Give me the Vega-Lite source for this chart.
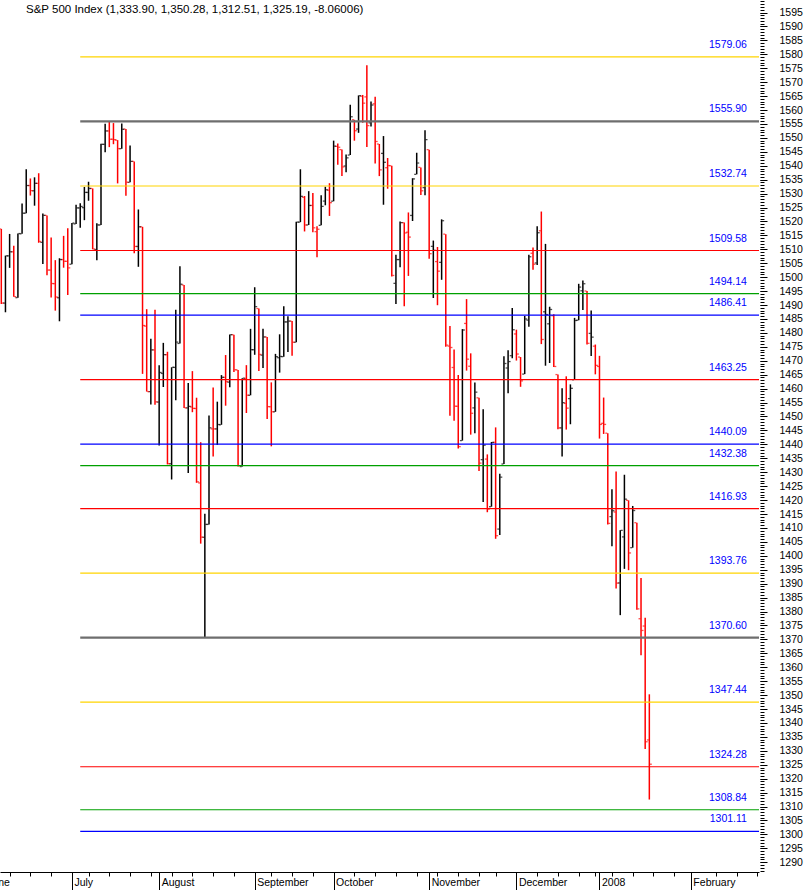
{
  "$schema": "https://vega.github.io/schema/vega-lite/v6.json",
  "width": 759,
  "height": 872,
  "autosize": {"type": "none"},
  "padding": {"left": 0, "top": 0, "right": 49, "bottom": 18},
  "background": "white",
  "config": {"view": {"stroke": null}, "font": "Liberation Sans"},
  "title": {"text": "S&P 500 Index (1,333.90, 1,350.28, 1,312.51, 1,325.19, -8.06006)", "anchor": "start", "frame": "group", "orient": "top", "offset": -24, "dx": 26, "baseline": "alphabetic", "font": "Liberation Sans", "fontSize": 11.5, "fontWeight": "normal", "color": "#000000"},
  "resolve": {"axis": {"x": "independent", "y": "independent"}},
  "datasets": {
    "levels": [
      {"lvl": 1579.06, "name": "1579.06"}, {"lvl": 1555.90, "name": "1555.90"}, {"lvl": 1532.74, "name": "1532.74"}, {"lvl": 1509.58, "name": "1509.58"},
      {"lvl": 1494.14, "name": "1494.14"}, {"lvl": 1486.41, "name": "1486.41"}, {"lvl": 1463.25, "name": "1463.25"}, {"lvl": 1440.09, "name": "1440.09"},
      {"lvl": 1432.38, "name": "1432.38"}, {"lvl": 1416.93, "name": "1416.93"}, {"lvl": 1393.76, "name": "1393.76"}, {"lvl": 1370.60, "name": "1370.60"},
      {"lvl": 1347.44, "name": "1347.44"}, {"lvl": 1324.28, "name": "1324.28"}, {"lvl": 1308.84, "name": "1308.84"}, {"lvl": 1301.11, "name": "1301.11"}
    ],
    "ohlc": [
      {"i":0,"d":"2007-06-07","o":1517.36,"h":1517.36,"l":1490.37,"c":1490.72},
      {"i":1,"d":"2007-06-08","o":1490.71,"h":1507.76,"l":1487.41,"c":1507.67},
      {"i":2,"d":"2007-06-11","o":1507.64,"h":1515.53,"l":1503.35,"c":1509.12},
      {"i":3,"d":"2007-06-12","o":1509.12,"h":1511.33,"l":1492.97,"c":1493.00},
      {"i":4,"d":"2007-06-13","o":1492.65,"h":1515.70,"l":1492.65,"c":1515.67},
      {"i":5,"d":"2007-06-14","o":1515.58,"h":1526.45,"l":1515.58,"c":1522.97},
      {"i":6,"d":"2007-06-15","o":1522.97,"h":1538.71,"l":1522.97,"c":1532.91},
      {"i":7,"d":"2007-06-18","o":1532.90,"h":1535.44,"l":1529.31,"c":1531.05},
      {"i":8,"d":"2007-06-19","o":1531.02,"h":1535.85,"l":1525.67,"c":1533.70},
      {"i":9,"d":"2007-06-20","o":1533.68,"h":1537.32,"l":1512.36,"c":1512.84},
      {"i":10,"d":"2007-06-21","o":1512.50,"h":1522.90,"l":1504.75,"c":1522.19},
      {"i":11,"d":"2007-06-22","o":1522.19,"h":1522.19,"l":1500.74,"c":1502.56},
      {"i":12,"d":"2007-06-25","o":1502.56,"h":1514.29,"l":1492.68,"c":1497.74},
      {"i":13,"d":"2007-06-26","o":1497.68,"h":1506.12,"l":1488.00,"c":1492.89},
      {"i":14,"d":"2007-06-27","o":1492.62,"h":1506.80,"l":1484.18,"c":1506.34},
      {"i":15,"d":"2007-06-28","o":1506.32,"h":1514.84,"l":1503.41,"c":1505.71},
      {"i":16,"d":"2007-06-29","o":1505.70,"h":1517.53,"l":1493.61,"c":1503.35},
      {"i":17,"d":"2007-07-02","o":1504.66,"h":1519.45,"l":1504.66,"c":1519.43},
      {"i":18,"d":"2007-07-03","o":1519.12,"h":1526.01,"l":1519.12,"c":1524.87},
      {"i":19,"d":"2007-07-05","o":1524.86,"h":1526.57,"l":1517.72,"c":1525.40},
      {"i":20,"d":"2007-07-06","o":1524.96,"h":1532.40,"l":1520.47,"c":1530.44},
      {"i":21,"d":"2007-07-09","o":1530.43,"h":1534.26,"l":1527.45,"c":1531.85},
      {"i":22,"d":"2007-07-10","o":1531.85,"h":1531.85,"l":1510.01,"c":1510.12},
      {"i":23,"d":"2007-07-11","o":1509.93,"h":1519.34,"l":1506.10,"c":1518.76},
      {"i":24,"d":"2007-07-12","o":1518.74,"h":1547.92,"l":1518.74,"c":1547.70},
      {"i":25,"d":"2007-07-13","o":1547.68,"h":1555.10,"l":1544.85,"c":1552.50},
      {"i":26,"d":"2007-07-16","o":1552.50,"h":1555.90,"l":1546.69,"c":1549.52},
      {"i":27,"d":"2007-07-17","o":1549.52,"h":1555.32,"l":1547.74,"c":1549.37},
      {"i":28,"d":"2007-07-18","o":1549.20,"h":1549.20,"l":1533.67,"c":1546.17},
      {"i":29,"d":"2007-07-19","o":1546.13,"h":1555.20,"l":1546.13,"c":1553.08},
      {"i":30,"d":"2007-07-20","o":1553.19,"h":1553.19,"l":1529.20,"c":1534.10},
      {"i":31,"d":"2007-07-23","o":1534.06,"h":1547.23,"l":1534.06,"c":1541.57},
      {"i":32,"d":"2007-07-24","o":1541.57,"h":1541.57,"l":1508.62,"c":1511.04},
      {"i":33,"d":"2007-07-25","o":1511.03,"h":1524.31,"l":1503.73,"c":1518.09},
      {"i":34,"d":"2007-07-26","o":1518.09,"h":1518.09,"l":1465.30,"c":1482.66},
      {"i":35,"d":"2007-07-27","o":1482.44,"h":1488.53,"l":1458.95,"c":1458.95},
      {"i":36,"d":"2007-07-30","o":1458.93,"h":1477.88,"l":1454.32,"c":1473.91},
      {"i":37,"d":"2007-07-31","o":1473.90,"h":1488.30,"l":1454.25,"c":1455.27},
      {"i":38,"d":"2007-08-01","o":1455.18,"h":1468.38,"l":1439.59,"c":1465.81},
      {"i":39,"d":"2007-08-02","o":1465.46,"h":1476.43,"l":1460.58,"c":1472.20},
      {"i":40,"d":"2007-08-03","o":1472.18,"h":1473.23,"l":1432.80,"c":1433.06},
      {"i":41,"d":"2007-08-06","o":1433.04,"h":1467.67,"l":1427.39,"c":1467.67},
      {"i":42,"d":"2007-08-07","o":1467.62,"h":1488.30,"l":1455.80,"c":1476.71},
      {"i":43,"d":"2007-08-08","o":1476.22,"h":1503.89,"l":1476.22,"c":1497.49},
      {"i":44,"d":"2007-08-09","o":1497.21,"h":1497.21,"l":1453.09,"c":1453.09},
      {"i":45,"d":"2007-08-10","o":1453.09,"h":1462.02,"l":1429.74,"c":1453.64},
      {"i":46,"d":"2007-08-13","o":1453.42,"h":1466.29,"l":1451.54,"c":1452.92},
      {"i":47,"d":"2007-08-14","o":1452.87,"h":1456.74,"l":1426.20,"c":1426.54},
      {"i":48,"d":"2007-08-15","o":1426.15,"h":1440.78,"l":1404.36,"c":1406.70},
      {"i":49,"d":"2007-08-16","o":1406.64,"h":1415.12,"l":1370.60,"c":1411.27},
      {"i":50,"d":"2007-08-17","o":1411.26,"h":1450.33,"l":1411.26,"c":1445.94},
      {"i":51,"d":"2007-08-20","o":1445.55,"h":1460.40,"l":1435.65,"c":1445.55},
      {"i":52,"d":"2007-08-21","o":1445.55,"h":1455.32,"l":1439.76,"c":1447.12},
      {"i":53,"d":"2007-08-22","o":1447.03,"h":1464.86,"l":1447.03,"c":1464.07},
      {"i":54,"d":"2007-08-23","o":1464.05,"h":1472.06,"l":1453.88,"c":1462.50},
      {"i":55,"d":"2007-08-24","o":1462.34,"h":1479.40,"l":1460.54,"c":1479.37},
      {"i":56,"d":"2007-08-27","o":1479.36,"h":1479.36,"l":1465.98,"c":1466.79},
      {"i":57,"d":"2007-08-28","o":1466.72,"h":1466.72,"l":1432.01,"c":1432.36},
      {"i":58,"d":"2007-08-29","o":1432.01,"h":1463.76,"l":1432.01,"c":1463.76},
      {"i":59,"d":"2007-08-30","o":1463.67,"h":1468.43,"l":1451.25,"c":1457.64},
      {"i":60,"d":"2007-08-31","o":1457.61,"h":1481.47,"l":1457.61,"c":1473.99},
      {"i":61,"d":"2007-09-04","o":1473.96,"h":1496.40,"l":1472.15,"c":1489.42},
      {"i":62,"d":"2007-09-05","o":1488.76,"h":1488.76,"l":1466.34,"c":1472.29},
      {"i":63,"d":"2007-09-06","o":1472.03,"h":1481.49,"l":1467.41,"c":1478.55},
      {"i":64,"d":"2007-09-07","o":1478.55,"h":1478.55,"l":1449.07,"c":1453.55},
      {"i":65,"d":"2007-09-10","o":1453.50,"h":1462.25,"l":1439.29,"c":1451.70},
      {"i":66,"d":"2007-09-11","o":1451.69,"h":1472.48,"l":1451.69,"c":1471.49},
      {"i":67,"d":"2007-09-12","o":1471.10,"h":1479.50,"l":1465.75,"c":1471.56},
      {"i":68,"d":"2007-09-13","o":1471.47,"h":1489.58,"l":1471.47,"c":1483.95},
      {"i":69,"d":"2007-09-14","o":1483.95,"h":1485.99,"l":1473.18,"c":1484.25},
      {"i":70,"d":"2007-09-17","o":1484.24,"h":1484.24,"l":1471.82,"c":1476.65},
      {"i":71,"d":"2007-09-18","o":1476.63,"h":1519.89,"l":1476.63,"c":1519.78},
      {"i":72,"d":"2007-09-19","o":1519.75,"h":1538.74,"l":1519.75,"c":1529.03},
      {"i":73,"d":"2007-09-20","o":1528.69,"h":1529.14,"l":1516.42,"c":1518.75},
      {"i":74,"d":"2007-09-21","o":1518.75,"h":1530.89,"l":1518.75,"c":1525.75},
      {"i":75,"d":"2007-09-24","o":1525.75,"h":1530.18,"l":1516.15,"c":1517.73},
      {"i":76,"d":"2007-09-25","o":1516.34,"h":1518.27,"l":1507.13,"c":1517.21},
      {"i":77,"d":"2007-09-26","o":1518.62,"h":1529.39,"l":1518.62,"c":1525.42},
      {"i":78,"d":"2007-09-27","o":1527.32,"h":1532.46,"l":1525.81,"c":1531.38},
      {"i":79,"d":"2007-09-28","o":1531.24,"h":1533.74,"l":1521.99,"c":1526.75},
      {"i":80,"d":"2007-10-01","o":1527.29,"h":1549.02,"l":1527.25,"c":1547.04},
      {"i":81,"d":"2007-10-02","o":1546.96,"h":1548.01,"l":1540.37,"c":1546.63},
      {"i":82,"d":"2007-10-03","o":1545.80,"h":1545.84,"l":1536.34,"c":1539.59},
      {"i":83,"d":"2007-10-04","o":1539.91,"h":1544.02,"l":1537.63,"c":1542.84},
      {"i":84,"d":"2007-10-05","o":1543.84,"h":1561.91,"l":1543.84,"c":1557.59},
      {"i":85,"d":"2007-10-08","o":1556.51,"h":1556.51,"l":1549.00,"c":1552.58},
      {"i":86,"d":"2007-10-09","o":1553.18,"h":1565.26,"l":1551.82,"c":1565.15},
      {"i":87,"d":"2007-10-10","o":1564.98,"h":1565.42,"l":1555.46,"c":1562.47},
      {"i":88,"d":"2007-10-11","o":1564.72,"h":1576.09,"l":1546.72,"c":1554.41},
      {"i":89,"d":"2007-10-12","o":1555.41,"h":1563.03,"l":1554.09,"c":1561.80},
      {"i":90,"d":"2007-10-15","o":1562.25,"h":1564.74,"l":1540.81,"c":1548.71},
      {"i":91,"d":"2007-10-16","o":1547.81,"h":1547.81,"l":1536.29,"c":1538.53},
      {"i":92,"d":"2007-10-17","o":1544.44,"h":1550.66,"l":1526.01,"c":1541.24},
      {"i":93,"d":"2007-10-18","o":1539.29,"h":1542.79,"l":1531.76,"c":1540.08},
      {"i":94,"d":"2007-10-19","o":1540.00,"h":1540.00,"l":1500.26,"c":1500.63},
      {"i":95,"d":"2007-10-22","o":1497.79,"h":1508.06,"l":1490.40,"c":1506.33},
      {"i":96,"d":"2007-10-23","o":1506.33,"h":1520.01,"l":1503.61,"c":1519.59},
      {"i":97,"d":"2007-10-24","o":1519.59,"h":1519.59,"l":1489.56,"c":1515.88},
      {"i":98,"d":"2007-10-25","o":1516.15,"h":1523.24,"l":1500.46,"c":1514.40},
      {"i":99,"d":"2007-10-26","o":1522.17,"h":1535.53,"l":1520.18,"c":1535.28},
      {"i":100,"d":"2007-10-29","o":1536.92,"h":1544.67,"l":1536.92,"c":1540.98},
      {"i":101,"d":"2007-10-30","o":1539.42,"h":1539.42,"l":1529.55,"c":1531.02},
      {"i":102,"d":"2007-10-31","o":1532.15,"h":1552.76,"l":1529.40,"c":1549.38},
      {"i":103,"d":"2007-11-01","o":1545.79,"h":1545.79,"l":1506.66,"c":1508.44},
      {"i":104,"d":"2007-11-02","o":1511.07,"h":1513.15,"l":1492.53,"c":1509.65},
      {"i":105,"d":"2007-11-05","o":1505.61,"h":1510.84,"l":1489.95,"c":1502.17},
      {"i":106,"d":"2007-11-06","o":1505.33,"h":1520.77,"l":1499.07,"c":1520.27},
      {"i":107,"d":"2007-11-07","o":1515.46,"h":1515.46,"l":1475.04,"c":1475.62},
      {"i":108,"d":"2007-11-08","o":1475.27,"h":1482.50,"l":1450.31,"c":1474.77},
      {"i":109,"d":"2007-11-09","o":1467.59,"h":1474.09,"l":1448.51,"c":1453.70},
      {"i":110,"d":"2007-11-12","o":1453.66,"h":1464.94,"l":1438.53,"c":1439.18},
      {"i":111,"d":"2007-11-13","o":1441.35,"h":1481.37,"l":1441.35,"c":1481.05},
      {"i":112,"d":"2007-11-14","o":1483.40,"h":1492.14,"l":1466.47,"c":1470.58},
      {"i":113,"d":"2007-11-15","o":1468.04,"h":1472.67,"l":1443.49,"c":1451.15},
      {"i":114,"d":"2007-11-16","o":1453.09,"h":1462.18,"l":1443.99,"c":1458.74},
      {"i":115,"d":"2007-11-19","o":1456.70,"h":1456.70,"l":1430.42,"c":1433.27},
      {"i":116,"d":"2007-11-20","o":1434.51,"h":1452.64,"l":1419.28,"c":1439.70},
      {"i":117,"d":"2007-11-21","o":1434.71,"h":1436.40,"l":1415.64,"c":1416.77},
      {"i":118,"d":"2007-11-23","o":1417.62,"h":1440.86,"l":1417.62,"c":1440.70},
      {"i":119,"d":"2007-11-26","o":1440.74,"h":1446.09,"l":1406.10,"c":1407.22},
      {"i":120,"d":"2007-11-27","o":1409.59,"h":1429.49,"l":1407.43,"c":1428.23},
      {"i":121,"d":"2007-11-28","o":1432.95,"h":1471.62,"l":1432.95,"c":1469.02},
      {"i":122,"d":"2007-11-29","o":1467.41,"h":1473.81,"l":1458.36,"c":1469.72},
      {"i":123,"d":"2007-11-30","o":1471.83,"h":1488.94,"l":1470.89,"c":1481.14},
      {"i":124,"d":"2007-12-03","o":1479.63,"h":1481.16,"l":1470.08,"c":1472.42},
      {"i":125,"d":"2007-12-04","o":1471.34,"h":1471.34,"l":1460.66,"c":1462.79},
      {"i":126,"d":"2007-12-05","o":1465.22,"h":1486.09,"l":1465.22,"c":1485.01},
      {"i":127,"d":"2007-12-06","o":1484.59,"h":1508.02,"l":1482.19,"c":1507.34},
      {"i":128,"d":"2007-12-07","o":1508.60,"h":1510.63,"l":1502.66,"c":1504.66},
      {"i":129,"d":"2007-12-10","o":1505.11,"h":1518.27,"l":1504.40,"c":1515.96},
      {"i":130,"d":"2007-12-11","o":1516.68,"h":1523.57,"l":1475.99,"c":1477.65},
      {"i":131,"d":"2007-12-12","o":1487.58,"h":1511.96,"l":1468.23,"c":1486.59},
      {"i":132,"d":"2007-12-13","o":1483.27,"h":1489.40,"l":1469.21,"c":1488.41},
      {"i":133,"d":"2007-12-14","o":1486.19,"h":1486.67,"l":1467.78,"c":1467.95},
      {"i":134,"d":"2007-12-17","o":1465.05,"h":1465.05,"l":1445.43,"c":1445.90},
      {"i":135,"d":"2007-12-18","o":1445.92,"h":1460.16,"l":1435.65,"c":1454.98},
      {"i":136,"d":"2007-12-19","o":1454.70,"h":1464.42,"l":1445.31,"c":1453.00},
      {"i":137,"d":"2007-12-20","o":1456.42,"h":1461.53,"l":1447.22,"c":1460.12},
      {"i":138,"d":"2007-12-21","o":1463.19,"h":1485.40,"l":1463.19,"c":1484.46},
      {"i":139,"d":"2007-12-24","o":1484.55,"h":1497.63,"l":1484.55,"c":1496.45},
      {"i":140,"d":"2007-12-26","o":1495.12,"h":1498.85,"l":1488.20,"c":1497.66},
      {"i":141,"d":"2007-12-27","o":1495.05,"h":1495.05,"l":1475.86,"c":1476.27},
      {"i":142,"d":"2007-12-28","o":1479.83,"h":1488.01,"l":1471.70,"c":1478.49},
      {"i":143,"d":"2007-12-31","o":1475.25,"h":1475.83,"l":1465.13,"c":1468.36},
      {"i":144,"d":"2008-01-02","o":1467.97,"h":1471.77,"l":1442.07,"c":1447.16},
      {"i":145,"d":"2008-01-03","o":1447.55,"h":1456.80,"l":1443.73,"c":1447.16},
      {"i":146,"d":"2008-01-04","o":1444.01,"h":1444.01,"l":1411.19,"c":1411.63},
      {"i":147,"d":"2008-01-07","o":1414.07,"h":1423.87,"l":1403.45,"c":1416.18},
      {"i":148,"d":"2008-01-08","o":1415.71,"h":1430.28,"l":1388.30,"c":1390.19},
      {"i":149,"d":"2008-01-09","o":1390.25,"h":1409.19,"l":1378.70,"c":1409.13},
      {"i":150,"d":"2008-01-10","o":1406.78,"h":1429.09,"l":1395.31,"c":1420.33},
      {"i":151,"d":"2008-01-11","o":1419.91,"h":1419.91,"l":1394.83,"c":1401.02},
      {"i":152,"d":"2008-01-14","o":1402.91,"h":1417.89,"l":1402.91,"c":1416.25},
      {"i":153,"d":"2008-01-15","o":1411.88,"h":1411.88,"l":1380.60,"c":1380.95},
      {"i":154,"d":"2008-01-16","o":1377.41,"h":1391.99,"l":1364.27,"c":1373.20},
      {"i":155,"d":"2008-01-17","o":1374.79,"h":1377.72,"l":1330.67,"c":1333.25},
      {"i":156,"d":"2008-01-18","o":1333.90,"h":1350.28,"l":1312.51,"c":1325.19}
    ]
  },
  "layer": [
    {
      "data": {"name": "ohlc"},
      "transform": [{"window": [{"op": "lag", "field": "c", "as": "pc"}], "sort": [{"field": "i"}]}],
      "mark": {"type": "rule", "strokeWidth": 1.5},
      "encoding": {
        "x": {"field": "i", "type": "quantitative", "scale": {"domain": [-0.313, 182.4], "nice": false, "zero": false},
          "axis": {"orient": "bottom", "title": null, "grid": false, "domain": true, "domainColor": "#000000", "domainWidth": 1,
            "values": [17, 38, 61, 80, 103, 124, 144, 166],
            "labelExpr": "datum.value == 17 ? 'July' : datum.value == 38 ? 'August' : datum.value == 61 ? 'September' : datum.value == 80 ? 'October' : datum.value == 103 ? 'November' : datum.value == 124 ? 'December' : datum.value == 144 ? '2008' : 'February'",
            "tickSize": 18, "tickColor": "#000000", "tickWidth": 1,
            "labelAlign": "left", "labelBaseline": "top", "labelPadding": -12.5, "labelOffset": 2,
            "labelFont": "Liberation Sans", "labelFontSize": 10.5, "labelColor": "#000000",
            "labelOverlap": false, "labelFlush": false, "labelBound": false}},
        "y": {"field": "l", "type": "quantitative", "scale": {"domain": [1286.5, 1599.5], "nice": false, "zero": false},
          "axis": {"orient": "right", "title": null, "domain": false, "grid": false, "tickCount": 63, "format": "d",
            "tickSize": 7, "tickColor": "#000000", "tickWidth": 1, "offset": 1,
            "labelPadding": 12, "labelAlign": "left", "labelBaseline": "middle",
            "labelFont": "Liberation Sans", "labelFontSize": 10.5, "labelColor": "#000000",
            "labelOverlap": false, "labelFlush": false, "labelBound": false}},
        "y2": {"field": "h"},
        "color": {"condition": {"test": "datum.pc != null ? datum.c <= datum.pc : datum.c < datum.o", "value": "#ff0000"}, "value": "#000000"}
      }
    },
    {
      "data": {"name": "ohlc"},
      "transform": [{"window": [{"op": "lag", "field": "c", "as": "pc"}], "sort": [{"field": "i"}]}],
      "mark": {"type": "tick", "orient": "horizontal", "size": 2, "thickness": 1.3, "xOffset": -1.5},
      "encoding": {
        "x": {"field": "i", "type": "quantitative",
          "axis": {"orient": "bottom", "title": null, "grid": false, "domain": false, "labels": false,
            "values": [2, 7, 12, 21, 26, 31, 36, 41, 46, 51, 56, 65, 70, 75, 85, 90, 95, 100, 105, 110, 115, 119, 129, 134, 139, 143, 147, 152, 157, 162, 172, 177, 182],
            "tickSize": 4, "tickColor": "#000000", "tickWidth": 1}},
        "y": {"field": "o", "type": "quantitative",
          "axis": {"orient": "right", "title": null, "domain": false, "grid": false, "labels": false, "tickCount": 313,
            "tickSize": 4, "tickColor": "#000000", "tickWidth": 1, "offset": 1}},
        "color": {"condition": {"test": "datum.pc != null ? datum.c <= datum.pc : datum.c < datum.o", "value": "#ff0000"}, "value": "#000000"}
      }
    },
    {
      "data": {"name": "ohlc"},
      "transform": [{"window": [{"op": "lag", "field": "c", "as": "pc"}], "sort": [{"field": "i"}]}],
      "mark": {"type": "tick", "orient": "horizontal", "size": 2, "thickness": 1.3, "xOffset": 1.5},
      "encoding": {
        "x": {"field": "i", "type": "quantitative",
          "axis": {"orient": "bottom", "title": null, "grid": false, "domain": false, "ticks": false,
            "values": [-0.3], "labelExpr": "'June'",
            "labelAlign": "left", "labelBaseline": "top", "labelPadding": 5.5, "labelOffset": -13.5,
            "labelFont": "Liberation Sans", "labelFontSize": 10.5, "labelColor": "#000000",
            "labelOverlap": false, "labelFlush": false, "labelBound": false}},
        "y": {"field": "c", "type": "quantitative", "axis": null},
        "color": {"condition": {"test": "datum.pc != null ? datum.c <= datum.pc : datum.c < datum.o", "value": "#ff0000"}, "value": "#000000"}
      }
    },
    {
      "data": {"name": "levels"},
      "mark": {"type": "rule"},
      "encoding": {
        "y": {"field": "lvl", "type": "quantitative", "axis": null},
        "x": {"datum": 19, "type": "quantitative", "axis": null},
        "x2": {"datum": 182.4},
        "color": {"field": "name", "type": "nominal", "legend": null,
          "scale": {"domain": ["1579.06", "1555.90", "1532.74", "1509.58", "1494.14", "1486.41", "1463.25", "1440.09", "1432.38", "1416.93", "1393.76", "1370.60", "1347.44", "1324.28", "1308.84", "1301.11"],
            "range": ["#ffd400", "#6e6e6e", "#ffd400", "#ff0000", "#00a000", "#0000ff", "#ff0000", "#0000ff", "#00a000", "#ff0000", "#ffd400", "#6e6e6e", "#ffd400", "#ff0000", "#00a000", "#0000ff"]}},
        "strokeWidth": {"condition": {"test": "datum.name == '1555.90' || datum.name == '1370.60'", "value": 2.2}, "value": 1.2}
      }
    },
    {
      "data": {"name": "levels"},
      "mark": {"type": "text", "align": "right", "baseline": "alphabetic", "dy": -9, "color": "#0000ff", "font": "Liberation Sans", "fontSize": 10.5},
      "encoding": {
        "y": {"field": "lvl", "type": "quantitative", "axis": null},
        "x": {"datum": 179.5, "type": "quantitative", "axis": null},
        "text": {"field": "name"}
      }
    }
  ]
}
